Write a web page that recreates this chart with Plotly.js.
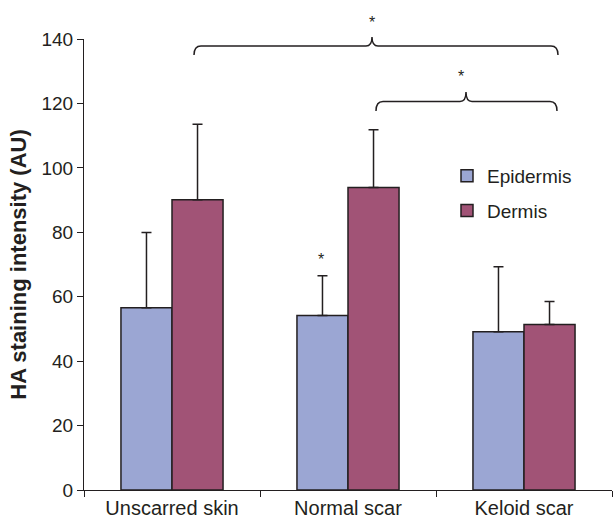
<!DOCTYPE html>
<html>
<head>
<meta charset="utf-8">
<script src="https://cdn.plot.ly/plotly-3.0.1.min.js"></script>
<style>html,body{margin:0;padding:0;background:#fff;}#chart{width:616px;height:518px;}</style>
</head>
<body>
<div id="chart"></div>
<script>
// ---- data ----
var categories = ['Unscarred skin', 'Normal scar', 'Keloid scar'];
var epidermis = [56.6, 54.2, 49.1];
var epidermisErr = [23.3, 12.3, 20.2];
var dermis = [90.1, 93.9, 51.4];
var dermisErr = [23.4, 17.9, 7.1];
var yTicks = [0, 20, 40, 60, 80, 100, 120, 140];

// ---- layout constants ----
var W = 616, H = 518;
var M = {l: 84, r: 4, t: 39, b: 28};
var PW = W - M.l - M.r, PH = H - M.t - M.b;
function px(x) { return (x - M.l) / PW; }
function py(y) { return (H - M.b - y) / PH; }

var idx = categories.map(function (c, i) { return i; });
var zeros = idx.map(function () { return 0; });

var font = 'Liberation Sans, Arial, sans-serif';
var ink = '#231f20';
var edge = {color: ink, width: 1.5};

var traces = [
  {type: 'bar', name: 'Epidermis', x: idx, y: epidermis, legendgroup: 'a',
   marker: {color: '#9ba6d3', line: edge},
   error_y: {type: 'data', symmetric: false, array: epidermisErr, arrayminus: zeros,
             color: ink, thickness: 1.5, width: 5}},
  {type: 'bar', name: 'Dermis', x: idx, y: dermis, legendgroup: 'b',
   marker: {color: '#a15376', line: edge},
   error_y: {type: 'data', symmetric: false, array: dermisErr, arrayminus: zeros,
             color: ink, thickness: 1.5, width: 5}}
];

function bracePath(xL, xR, xM, yEnd, yLine, yPeak) {
  var r = 7, rp = 6;
  function P(x, y) { return px(x).toFixed(5) + ',' + py(y).toFixed(5); }
  return 'M' + P(xL, yEnd) +
    ' Q' + P(xL, yLine) + ' ' + P(xL + r, yLine) +
    ' L' + P(xM - rp, yLine) +
    ' Q' + P(xM, yLine) + ' ' + P(xM, yPeak) +
    ' Q' + P(xM, yLine) + ' ' + P(xM + rp, yLine) +
    ' L' + P(xR - r, yLine) +
    ' Q' + P(xR, yLine) + ' ' + P(xR, yEnd);
}

var shapes = [
  {type: 'path', xref: 'paper', yref: 'paper', path: bracePath(194, 558, 372, 55, 46, 37),
   line: {color: ink, width: 1.5}},
  {type: 'path', xref: 'paper', yref: 'paper', path: bracePath(376, 557, 466, 111, 101.5, 92),
   line: {color: ink, width: 1.5}}
];

var annotations = [
  {xref: 'paper', yref: 'paper', x: px(372), y: py(12), text: '*', showarrow: false,
   font: {family: font, size: 16, color: ink}},
  {xref: 'paper', yref: 'paper', x: px(466), y: py(66), text: '*', showarrow: false,
   font: {family: font, size: 16, color: ink}},
  {xref: 'x', yref: 'y', x: idx[1] - 0.155, y: epidermis[1] + epidermisErr[1] + 5, text: '*', showarrow: false,
   font: {family: font, size: 16, color: ink}}
];

var layout = {
  width: W, height: H,
  margin: M,
  paper_bgcolor: '#fff', plot_bgcolor: '#fff',
  font: {family: font, size: 19, color: ink},
  barmode: 'group', bargap: 0.42, bargroupgap: 0,
  showlegend: true,
  legend: {x: px(447), y: py(157), xanchor: 'left', yanchor: 'top',
           font: {family: font, size: 19, color: ink},
           traceorder: 'grouped', tracegroupgap: 7, bgcolor: 'rgba(0,0,0,0)',
           itemwidth: 30},
  xaxis: {range: [-0.5, 2.5], tickmode: 'array', tickvals: idx, ticktext: categories,
          ticks: '', showline: true, linecolor: ink, linewidth: 1,
          showgrid: false, zeroline: false, fixedrange: true,
          tickfont: {family: font, size: 20, color: ink},
          minor: {tickmode: 'array', tickvals: [-0.5, 0.5, 1.5, 2.5], ticks: 'outside',
                  ticklen: 6, tickcolor: ink, tickwidth: 1, showgrid: false}},
  yaxis: {range: [0, 140], tickmode: 'array', tickvals: yTicks,
          ticks: 'outside', ticklen: 6, tickcolor: ink, tickwidth: 1,
          showline: true, linecolor: ink, linewidth: 1,
          showgrid: false, zeroline: false,
          tickfont: {family: font, size: 19, color: ink},
          title: {text: '<b>HA staining intensity (AU)</b>', standoff: 8,
                  font: {family: font, size: 22, color: ink}}},
  shapes: shapes,
  annotations: annotations
};

Plotly.newPlot('chart', traces, layout, {displayModeBar: false, staticPlot: true});
</script>
</body>
</html>
